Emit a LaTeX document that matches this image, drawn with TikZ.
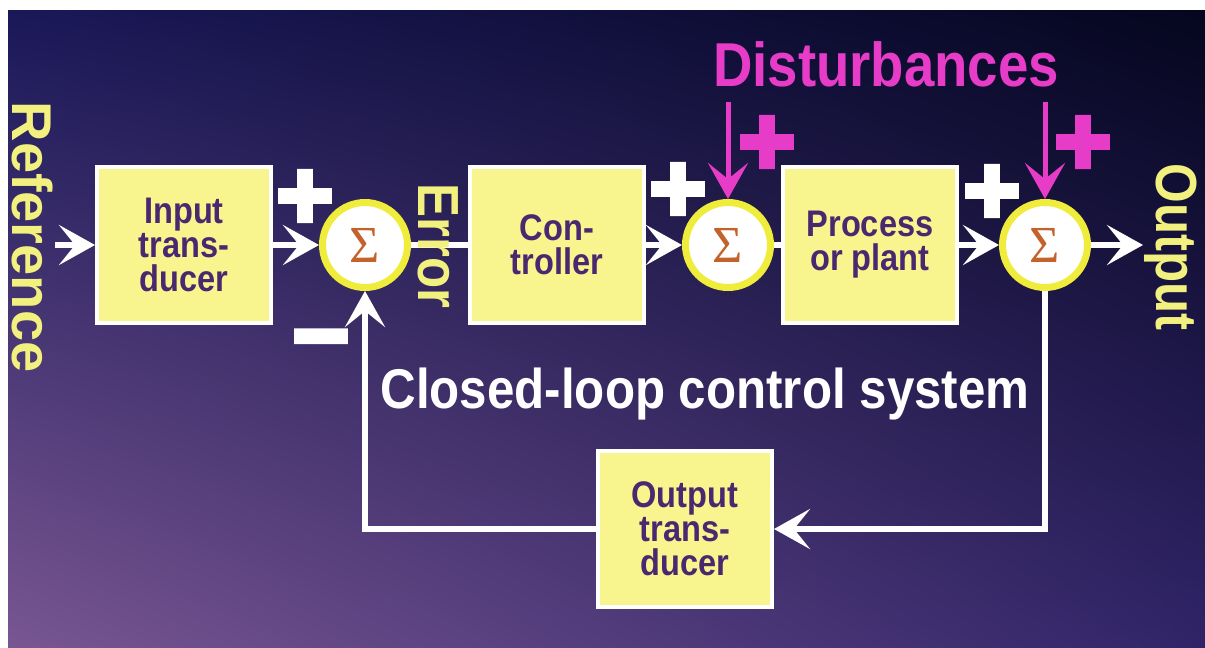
\documentclass[tikz,border=0pt]{standalone}
\usepackage{fontspec}
\usetikzlibrary{arrows.meta,shadings}
\setmainfont{Liberation Sans}
\newfontfamily\labfont[FakeStretch=0.88]{Liberation Sans}
\newfontfamily\reffont{Liberation Sans}
\newfontfamily\sigfont{Liberation Serif}
\newfontfamily\signfont[FakeBold=10]{Liberation Sans}
\definecolor{bgUL}{HTML}{1A1858}
\definecolor{bgUR}{HTML}{05061E}
\definecolor{bgLL}{HTML}{785692}
\definecolor{bgLR}{HTML}{302468}
\definecolor{boxfill}{HTML}{F8F48E}
\definecolor{boxtext}{HTML}{4A2870}
\definecolor{ring}{HTML}{F0EC3C}
\definecolor{sigcol}{HTML}{C4622C}
\definecolor{labyellow}{HTML}{F2F07E}
\definecolor{distmag}{HTML}{E63CC8}

\begin{document}
\begin{tikzpicture}[x=0.5pt,y=-0.5pt,>={Stealth[length=18pt,width=20pt,inset=8pt]},
    blockbox/.style={draw=white,line width=2pt,fill=boxfill,text=boxtext,minimum width=87pt,minimum height=78pt,inner sep=0pt,align=center,font=\labfont\bfseries\fontsize{18.5}{17}\selectfont},
    sumnode/.style={circle,draw=ring,line width=3.5pt,fill=white,minimum size=42.5pt,inner sep=0pt,text=sigcol,font=\sigfont\fontsize{26}{26}\selectfont},
    sigline/.style={draw=white,line width=3pt},
    distline/.style={draw=distmag,line width=2.5pt},
    ylabel/.style={text=labyellow,rotate=-90,inner sep=0pt},
    signnode/.style={inner sep=0pt,font=\signfont\fontsize{46}{46}\selectfont}]
    \useasboundingbox (0,0) rectangle (1205,648);
    \fill[white] (0,0) rectangle (1205,648);
    \shade[upper left=bgUL,upper right=bgUR,lower left=bgLL,lower right=bgLR] (8,10) rectangle (1205,648);

    \coordinate (refin) at (55,245);
    \node[blockbox] (itrans) at (184,245) {Input\\trans-\\ducer};
    \node[sumnode] (sum1) at (365,245) {Σ};
    \node[blockbox] (ctrl) at (557,245) {Con-\\troller};
    \node[sumnode] (sum2) at (728,245) {Σ};
    \node[blockbox] (proc) at (870,245) {Process\\or plant};
    \node[sumnode] (sum3) at (1045,245) {Σ};
    \coordinate (outend) at (1143,245);
    \node[blockbox] (otrans) at (685,529) {Output\\trans-\\ducer};
    \coordinate (dist1) at (728,102);
    \coordinate (dist2) at (1045,102);

    \draw[sigline,->] (refin) -- (itrans);
    \draw[sigline,->] (itrans) -- (sum1);
    \draw[sigline] (sum1) -- (ctrl);
    \draw[sigline,->] (ctrl) -- (sum2);
    \draw[sigline] (sum2) -- (proc);
    \draw[sigline,->] (proc) -- (sum3);
    \draw[sigline,->] (sum3) -- (outend);
    \draw[sigline,->] (sum3) |- (otrans);
    \draw[sigline,->] (otrans) -| (sum1);
    \draw[distline,->] (dist1) -- (sum2);
    \draw[distline,->] (dist2) -- (sum3);

    \node[ylabel,font=\reffont\bfseries\fontsize{28}{28}\selectfont] (reflab) at (33,237) {Reference};
    \node[ylabel,font=\labfont\bfseries\fontsize{29}{29}\selectfont] (errlab) at (438,246) {Error};
    \node[ylabel,font=\labfont\bfseries\fontsize{29}{29}\selectfont] (outlab) at (1171,247) {Output};
    \node[text=distmag,anchor=base,inner sep=0pt,font=\labfont\bfseries\fontsize{31}{31}\selectfont] (distlab) at (886,86) {Disturbances};
    \node[text=white,anchor=base,inner sep=0pt,font=\labfont\bfseries\fontsize{28}{28}\selectfont] (title) at (705,408) {Closed-loop control system};

    \node[signnode,text=white] (plus1) at (305,200) {+};
    \node[signnode,text=white] (plus2) at (678,193) {+};
    \node[signnode,text=white] (plus3) at (992,195) {+};
    \node[signnode,text=white] (minus1) at (321,350) {−};
    \node[signnode,text=distmag] (plus4) at (767,146) {+};
    \node[signnode,text=distmag] (plus5) at (1083,146) {+};
\end{tikzpicture}
\end{document}
